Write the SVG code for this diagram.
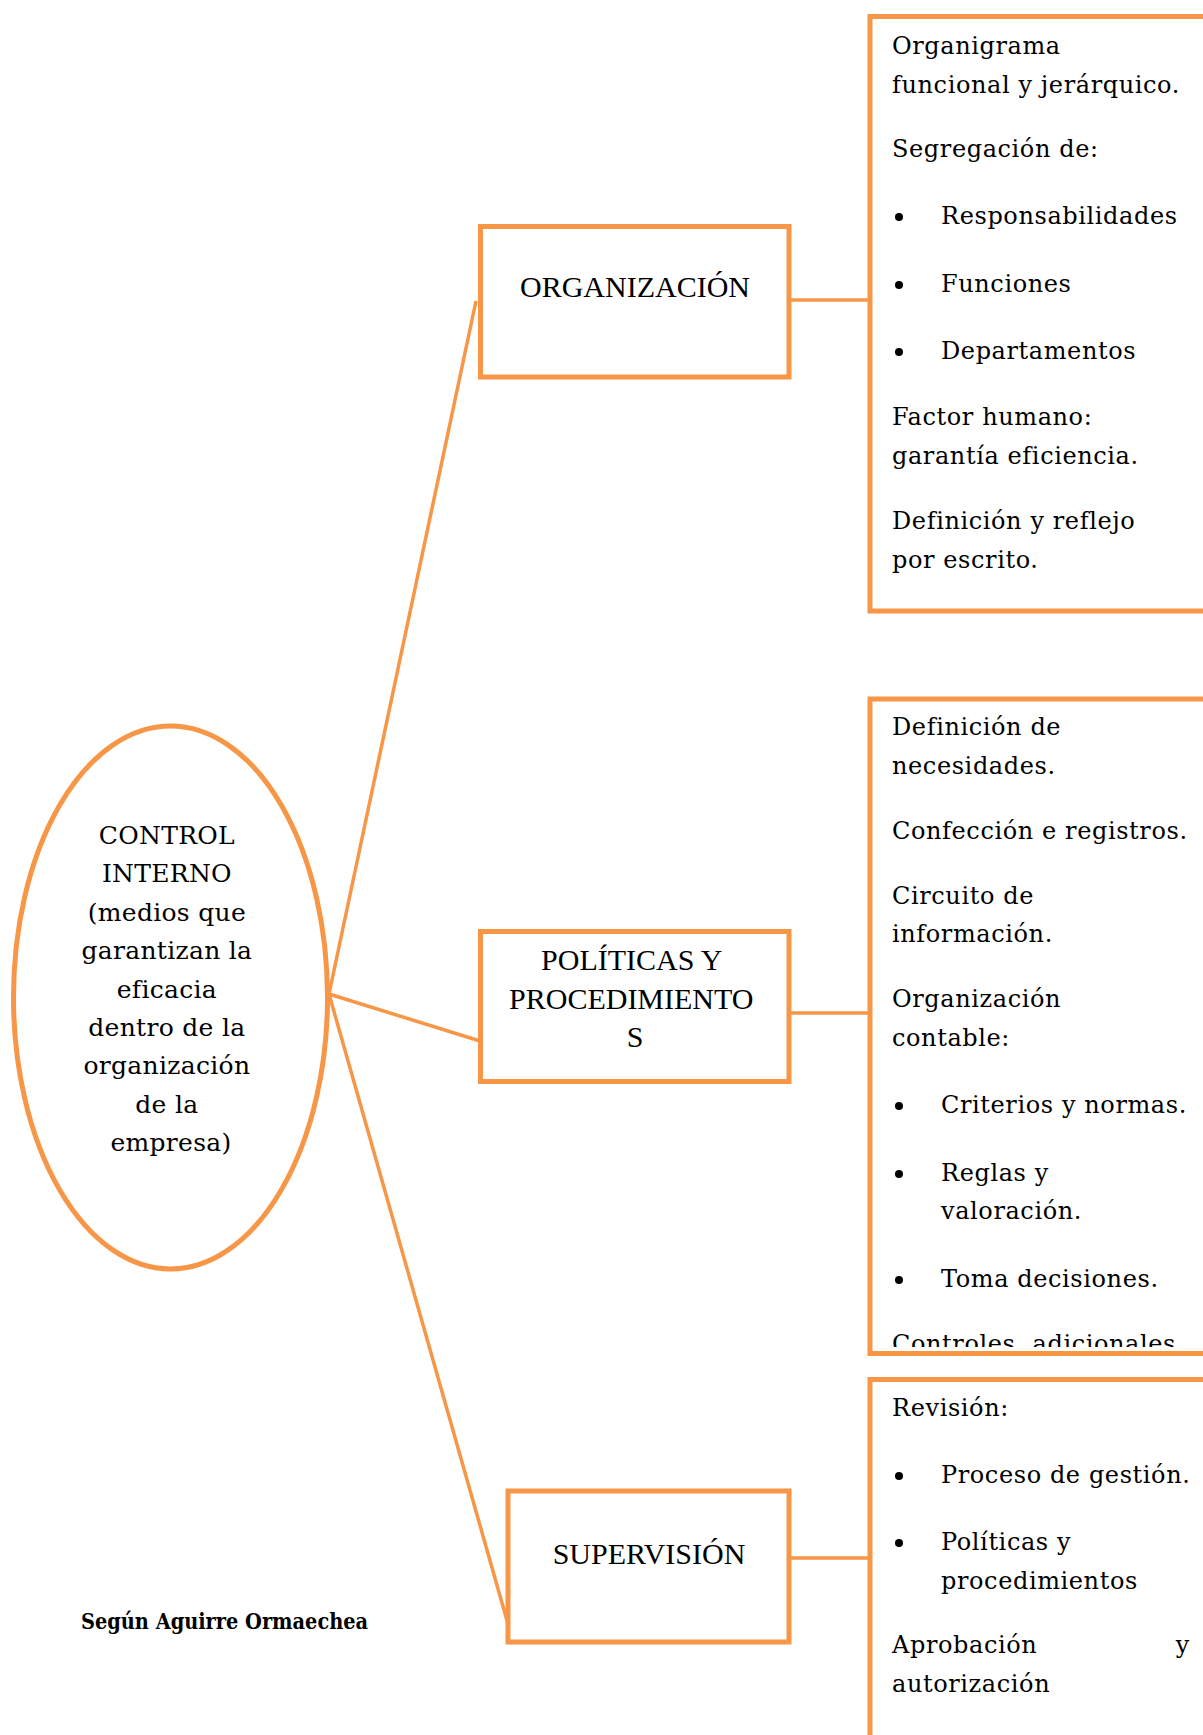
<svg xmlns="http://www.w3.org/2000/svg" width="1203" height="1735" viewBox="0 0 1203 1735">
  <style>
    .box { fill: #ffffff; stroke: #F79646; stroke-width: 5; }
    .link { fill: none; stroke: #F79646; stroke-width: 3.5; }
    .title { font-family: "Liberation Serif", "Times New Roman", serif; font-size: 30px; fill: #000000; text-anchor: middle; }
    .item { font-family: "DejaVu Serif", Georgia, serif; font-size: 24px; letter-spacing: 0.6px; fill: #000000; }
    .center { font-family: "DejaVu Serif", Georgia, serif; font-size: 25px; letter-spacing: 0.3px; fill: #000000; text-anchor: middle; }
    .dot { fill: #000000; }
    .note { font-family: "DejaVu Serif", Georgia, serif; font-size: 21.5px; font-weight: bold; font-stretch: condensed; fill: #000000; }
  </style>
  <defs>
    <clipPath id="clip-politicas">
      <rect x="872" y="701" width="331" height="646"/>
    </clipPath>
  </defs>

  <rect width="1203" height="1735" fill="#ffffff"/>

  <!-- connectors -->
  <g id="connectors">
    <line class="link" x1="329" y1="994" x2="476" y2="301"/>
    <line class="link" x1="329" y1="994" x2="480" y2="1041"/>
    <line class="link" x1="329" y1="994" x2="508" y2="1624"/>
    <line class="link" x1="790" y1="300" x2="870" y2="300"/>
    <line class="link" x1="790" y1="1013" x2="870" y2="1013"/>
    <line class="link" x1="790" y1="1558" x2="870" y2="1558"/>
  </g>

  <!-- central ellipse -->
  <g id="control-interno">
    <ellipse class="box" cx="170.5" cy="997.5" rx="157" ry="271.5"/>
    <text class="center">
      <tspan x="171" y="844">CONTROL</tspan>
      <tspan x="171" y="882">INTERNO</tspan>
      <tspan x="171" y="921">(medios que</tspan>
      <tspan x="171" y="959">garantizan la</tspan>
      <tspan x="171" y="998">eficacia</tspan>
      <tspan x="171" y="1036">dentro de la</tspan>
      <tspan x="171" y="1074">organización</tspan>
      <tspan x="171" y="1113">de la</tspan>
      <tspan x="171" y="1151">empresa)</tspan>
    </text>
  </g>

  <!-- ORGANIZACIÓN -->
  <g id="organizacion">
    <rect class="box" x="480.5" y="226.5" width="308.5" height="150.5"/>
    <text class="title" x="635" y="297">ORGANIZACIÓN</text>
  </g>

  <g id="organizacion-detalle">
    <rect class="box" x="870" y="16.5" width="345" height="594.5"/>
    <text class="item">
      <tspan x="892" y="54">Organigrama</tspan>
      <tspan x="892" y="93">funcional y jerárquico.</tspan>
      <tspan x="892" y="157">Segregación de:</tspan>
      <tspan x="941" y="224">Responsabilidades</tspan>
      <tspan x="941" y="292">Funciones</tspan>
      <tspan x="941" y="359">Departamentos</tspan>
      <tspan x="892" y="425">Factor humano:</tspan>
      <tspan x="892" y="464">garantía eficiencia.</tspan>
      <tspan x="892" y="529">Definición y reflejo</tspan>
      <tspan x="892" y="568">por escrito.</tspan>
    </text>
    <circle class="dot" cx="899" cy="217" r="4"/>
    <circle class="dot" cx="899" cy="285" r="4"/>
    <circle class="dot" cx="899" cy="352" r="4"/>
  </g>

  <!-- POLÍTICAS Y PROCEDIMIENTOS -->
  <g id="politicas">
    <rect class="box" x="480.5" y="931.5" width="308.5" height="150"/>
    <text class="title">
      <tspan x="635" y="970">POLÍTICAS Y</tspan>
      <tspan x="635" y="1009">PROCEDIMIENTO</tspan>
      <tspan x="635" y="1047">S</tspan>
    </text>
  </g>

  <g id="politicas-detalle">
    <rect class="box" x="870" y="699" width="345" height="654.5"/>
    <g clip-path="url(#clip-politicas)">
      <text class="item">
        <tspan x="892" y="735">Definición de</tspan>
        <tspan x="892" y="774">necesidades.</tspan>
        <tspan x="892" y="839">Confección e registros.</tspan>
        <tspan x="892" y="904">Circuito de</tspan>
        <tspan x="892" y="942">información.</tspan>
        <tspan x="892" y="1007">Organización</tspan>
        <tspan x="892" y="1046">contable:</tspan>
        <tspan x="941" y="1113">Criterios y normas.</tspan>
        <tspan x="941" y="1181">Reglas y</tspan>
        <tspan x="941" y="1219">valoración.</tspan>
        <tspan x="941" y="1287">Toma decisiones.</tspan>
        <tspan x="892" y="1352">Controles</tspan>
      </text>
      <text class="item" x="1176" y="1352" text-anchor="end">adicionales</text>
    </g>
    <circle class="dot" cx="899" cy="1106" r="4"/>
    <circle class="dot" cx="899" cy="1174" r="4"/>
    <circle class="dot" cx="899" cy="1280" r="4"/>
  </g>

  <!-- SUPERVISIÓN -->
  <g id="supervision">
    <rect class="box" x="508" y="1491" width="281" height="151"/>
    <text class="title" x="649" y="1564">SUPERVISIÓN</text>
  </g>

  <g id="supervision-detalle">
    <rect class="box" x="870" y="1379.5" width="345" height="380"/>
    <text class="item">
      <tspan x="892" y="1416">Revisión:</tspan>
      <tspan x="941" y="1483">Proceso de gestión.</tspan>
      <tspan x="941" y="1550">Políticas y</tspan>
      <tspan x="941" y="1589">procedimientos</tspan>
      <tspan x="892" y="1653">Aprobación</tspan>
      <tspan x="892" y="1692">autorización</tspan>
    </text>
    <text class="item" x="1190" y="1653" text-anchor="end">y</text>
    <circle class="dot" cx="899" cy="1476" r="4"/>
    <circle class="dot" cx="899" cy="1543" r="4"/>
  </g>

  <!-- source note -->
  <g id="fuente">
    <text class="note" x="81" y="1629">Según Aguirre Ormaechea</text>
  </g>
</svg>
